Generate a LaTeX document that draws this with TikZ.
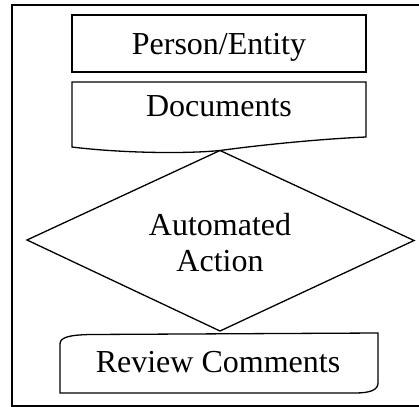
\documentclass[tikz,border=0pt]{standalone}
\usepackage{fontspec}
\setmainfont{Liberation Serif}
\begin{document}
\begin{tikzpicture}[x=1bp,y=-1bp,
  shapeline/.style={draw=black, line width=1.3bp, line join=miter},
  framebox/.style={draw=black, line width=2bp},
  lbl/.style={anchor=base, inner sep=0pt, font=\fontsize{32bp}{37bp}\selectfont}]
\useasboundingbox (0,0) rectangle (419,407);
% outer frame (its right edge lies beyond the picture)
\draw[framebox] (12,5) rectangle (440,406);
% Person/Entity
\draw[shapeline] (72,15) rectangle (366,72);
\node[lbl] (person) at (219,54) {Person/Entity};
% Documents
\draw[shapeline] (72,147) -- (72,82) -- (366,82) -- (366,137)
  .. controls (320,139) and (260,145) .. (220,150.5)
  .. controls (185,154) and (120,153) .. (72,147) -- cycle;
\node[lbl] (docs) at (219,116.7) {Documents};
% Automated Action (diamond)
\draw[shapeline] (220,150.5) -- (414,240.5) -- (220,331) -- (27,240) -- cycle;
\node[lbl] (auto1) at (220,235) {Automated};
\node[lbl] (auto2) at (220,271.7) {Action};
% Review Comments
\draw[shapeline] (60,393) -- (60,344)
  .. controls (60,337) and (70,335) .. (90,334.5) -- (378,333) -- (378,383)
  .. controls (378,390) and (370,393) .. (355,393) -- cycle;
\node[lbl] (review) at (218,372.7) {Review Comments};
\end{tikzpicture}
\end{document}
